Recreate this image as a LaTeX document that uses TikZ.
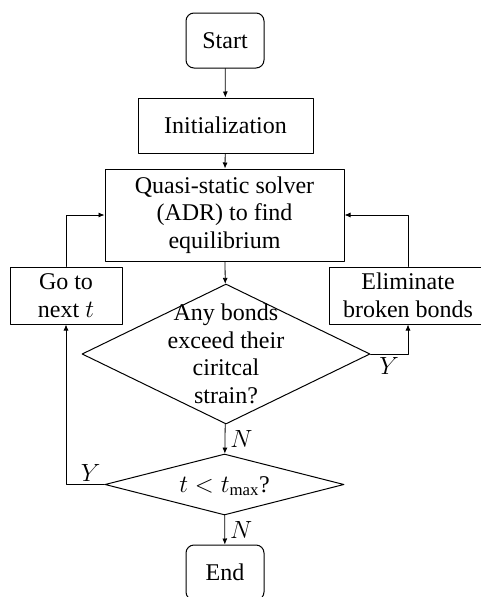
\documentclass[tikz,border=0pt]{standalone}
\usepackage{fontspec}
\setmainfont{Liberation Serif}
\usetikzlibrary{arrows.meta,shapes.geometric}

\begin{document}
\begin{tikzpicture}[line cap=round,line join=round,>={Latex[length=6pt,width=5pt]},x=1pt,y=-1pt,
  font=\fontsize{24}{27.5}\selectfont,
  terminal/.style={draw,line width=1pt,rounded corners=8pt,minimum width=78pt,minimum height=55pt,inner sep=0pt},
  process/.style={draw,line width=1pt,align=center,inner sep=0pt},
  decision/.style={draw,line width=1pt,diamond,inner sep=0pt},
  flow/.style={->,line width=0.8pt},
  yn/.style={inner sep=3pt}]
\clip (0,0) rectangle (481,597);
\node[terminal] (start) at (225,40.5) {Start};
\node[process,minimum width=175pt,minimum height=55pt] (init) at (225.5,125.5) {Initialization};
\node[process,minimum width=239pt,minimum height=92pt] (solver) at (224.5,215) {Quasi-static solver\\(ADR) to find\\equilibrium};
\node[process,minimum width=112pt,minimum height=57pt] (next) at (66,295.5) {Go to\\next $t$};
\node[process,minimum width=158pt,minimum height=57pt] (elim) at (408,295.5) {Eliminate\\broken bonds};
\node[decision,minimum width=288pt,minimum height=140pt] (check) at (226,354) {};
\node[align=center,inner sep=0pt] (checktxt) at (226,354) {Any bonds\\exceed their\\ciritcal\\strain?};
\node[decision,minimum width=239pt,minimum height=61pt] (tmax) at (224.5,484.5) {};
\node[inner sep=0pt] (tmaxtxt) at (224.5,486) {$t<t_{\max}$?};
\node[terminal] (end) at (225,572.5) {End};
% main line
\draw [flow] (start) -- (init);
\draw [flow] (init) -- (solver);
\draw [flow] (solver) -- (check);
\draw [flow] (check) -- node[yn,right,inner sep=5pt] {$N$} (tmax);
\draw [flow] (tmax) -- node[yn,right,inner sep=5pt] {$N$} (end);
% loops back to the solver
\draw [flow] (next.north) |- (solver.west);
\draw [flow] (elim.north) |- (solver.east);
\draw [flow] (check.east) -| node[yn,pos=0.25,below] {$Y$} (elim.south);
\draw [flow] (tmax.west) -| node[yn,pos=0.18,above] {$Y$} (next.south);
\end{tikzpicture}
\end{document}
